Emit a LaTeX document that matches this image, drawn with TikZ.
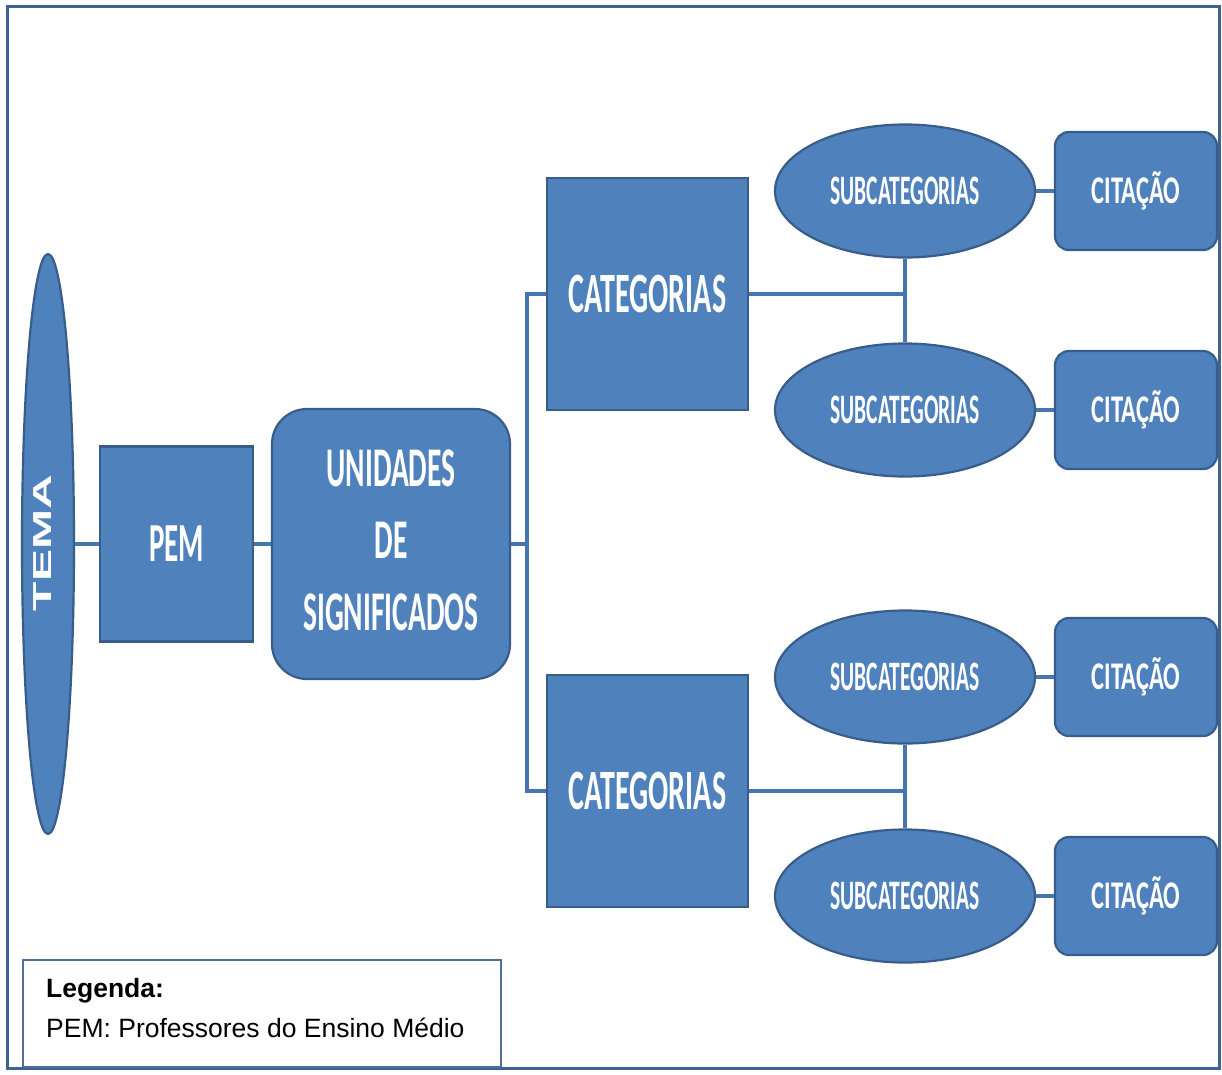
\documentclass[tikz,border=0pt]{standalone}
\usepackage{graphicx}
\usepackage{fontspec}
\setmainfont{Liberation Sans}
\newfontfamily\calfont{Carlito}
\usetikzlibrary{shapes.geometric}
\definecolor{boxfill}{RGB}{79,129,189}
\definecolor{boxedge}{RGB}{56,93,138}
\definecolor{framec}{RGB}{62,98,148}
\definecolor{linec}{RGB}{70,118,178}
\definecolor{legedge}{RGB}{80,110,155}
\newcommand\talltxt[3]{\scalebox{1}[#2]{\fontsize{#1}{#1}\calfont\bfseries #3}}
\begin{document}
\begin{tikzpicture}[x=1pt,y=-1pt,
  shp/.style={fill=boxfill, draw=boxedge, line width=2.2pt, text=white, inner sep=0pt},
  sq/.style={shp, rectangle},
  rsq/.style={shp, rectangle, rounded corners=#1},
  ell/.style={shp, ellipse},
  conn/.style={draw=linec, line width=4.5pt},
  legtxt/.style={anchor=base west, inner sep=0pt, font=\fontsize{26.5}{30}\selectfont},
  ]
\useasboundingbox (0,0) rectangle (1222,1074);
\draw[framec, line width=3pt] (7,6) rectangle (1219,1068);

% nodes
\node[ell, minimum width=52pt, minimum height=580pt] (tema) at (48,544) {};
\node[text=white, inner sep=0pt] (temat) at (43,543)
  {\rotatebox{90}{\scalebox{1.85}[1]{\fontsize{26}{26}\selectfont\bfseries TEMA}}};
\node[sq, minimum width=153pt, minimum height=195pt] (pem) at (176.5,544)
  {\talltxt{29}{1.9}{PEM}};
\node[rsq=35pt, minimum width=238pt, minimum height=270pt] (unid) at (391,544)
  {\scalebox{1}[1.9]{\fontsize{29.5}{38}\calfont\bfseries
   \begin{tabular}{@{}c@{}}UNIDADES\\DE\\SIGNIFICADOS\end{tabular}}};
\node[sq, minimum width=201pt, minimum height=232pt] (cat1) at (647.5,294)
  {\talltxt{30}{1.9}{CATEGORIAS}};
\node[sq, minimum width=201pt, minimum height=232pt] (cat2) at (647.5,791)
  {\talltxt{30}{1.9}{CATEGORIAS}};

\node[ell, minimum width=260pt, minimum height=133pt] (sub1) at (905,191)
  {\talltxt{21.5}{1.95}{SUBCATEGORIAS}};
\node[ell, minimum width=260pt, minimum height=133pt] (sub2) at (905,410)
  {\talltxt{21.5}{1.95}{SUBCATEGORIAS}};
\node[ell, minimum width=260pt, minimum height=133pt] (sub3) at (905,677)
  {\talltxt{21.5}{1.95}{SUBCATEGORIAS}};
\node[ell, minimum width=260pt, minimum height=133pt] (sub4) at (905,896)
  {\talltxt{21.5}{1.95}{SUBCATEGORIAS}};

\node[rsq=14pt, minimum width=162pt, minimum height=118pt] (cit1) at (1136,191)
  {\talltxt{24.5}{1.6}{CITAÇÃO}};
\node[rsq=14pt, minimum width=162pt, minimum height=118pt] (cit2) at (1136,410)
  {\talltxt{24.5}{1.6}{CITAÇÃO}};
\node[rsq=14pt, minimum width=162pt, minimum height=118pt] (cit3) at (1136,677)
  {\talltxt{24.5}{1.6}{CITAÇÃO}};
\node[rsq=14pt, minimum width=162pt, minimum height=118pt] (cit4) at (1136,896)
  {\talltxt{24.5}{1.6}{CITAÇÃO}};

% connectors
\coordinate (j) at (527,544);
\draw[conn] (tema.east) -- (pem.west);
\draw[conn] (pem.east) -- (unid.west);
\draw[conn] (unid.east) -- (j);
\draw[conn] (cat1.west) -| (j) |- (cat2.west);
\draw[conn] (cat1.east) -- (cat1.east -| sub1.south);
\draw[conn] (sub1.south) -- (sub2.north);
\draw[conn] (cat2.east) -- (cat2.east -| sub3.south);
\draw[conn] (sub3.south) -- (sub4.north);
\draw[conn] (sub1.east) -- (cit1.west);
\draw[conn] (sub2.east) -- (cit2.west);
\draw[conn] (sub3.east) -- (cit3.west);
\draw[conn] (sub4.east) -- (cit4.west);

% legend
\draw[legedge, line width=1.5pt] (23,960) rectangle (501,1067);
\node[legtxt] (leg1) at (46,997) {\bfseries Legenda:};
\node[legtxt] (leg2) at (46,1037) {PEM: Professores do Ensino Médio};
\end{tikzpicture}
\end{document}
